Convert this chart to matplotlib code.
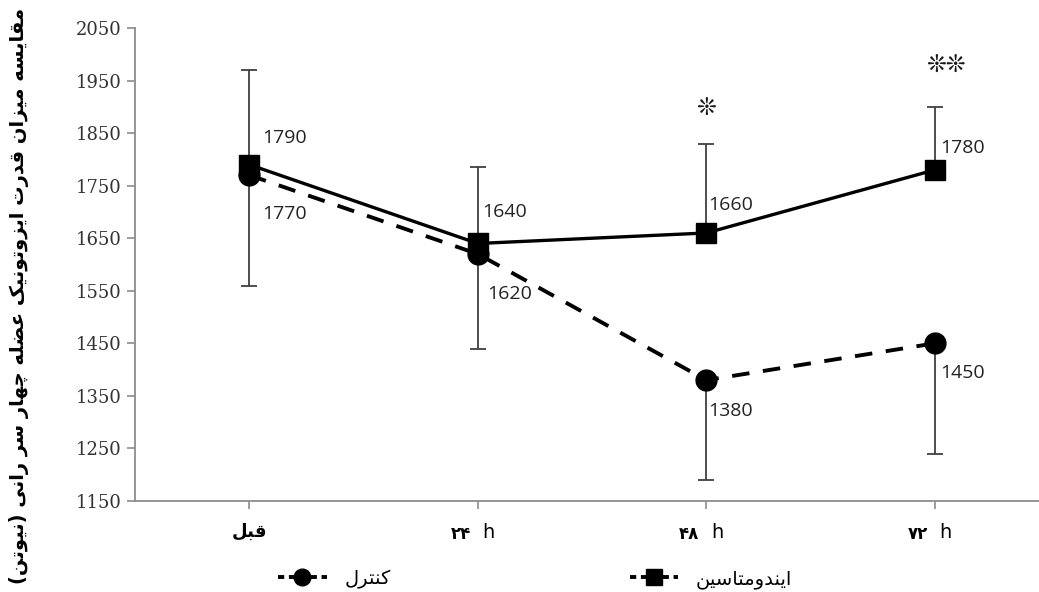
import matplotlib
matplotlib.use("Agg")
import matplotlib.pyplot as plt
from matplotlib.lines import Line2D

# Arabic-script contextual forms: char -> (isolated, final, initial, medial)
FORMS = {
    "ا": ("\uFE8D", "\uFE8E", None, None),
    "د": ("\uFEA9", "\uFEAA", None, None),
    "ر": ("\uFEAD", "\uFEAE", None, None),
    "ز": ("\uFEAF", "\uFEB0", None, None),
    "و": ("\uFEED", "\uFEEE", None, None),
    "ب": ("\uFE8F", "\uFE90", "\uFE91", "\uFE92"),
    "ت": ("\uFE95", "\uFE96", "\uFE97", "\uFE98"),
    "چ": ("\uFB7A", "\uFB7B", "\uFB7C", "\uFB7D"),
    "س": ("\uFEB1", "\uFEB2", "\uFEB3", "\uFEB4"),
    "ض": ("\uFEBD", "\uFEBE", "\uFEBF", "\uFEC0"),
    "ع": ("\uFEC9", "\uFECA", "\uFECB", "\uFECC"),
    "ق": ("\uFED5", "\uFED6", "\uFED7", "\uFED8"),
    "ک": ("\uFB8E", "\uFB8F", "\uFB90", "\uFB91"),
    "ل": ("\uFEDD", "\uFEDE", "\uFEDF", "\uFEE0"),
    "م": ("\uFEE1", "\uFEE2", "\uFEE3", "\uFEE4"),
    "ن": ("\uFEE5", "\uFEE6", "\uFEE7", "\uFEE8"),
    "ه": ("\uFEE9", "\uFEEA", "\uFEEB", "\uFEEC"),
    "ی": ("\uFBFC", "\uFBFD", "\uFBFE", "\uFBFF"),
}
MIRROR = {"(": ")", ")": "("}


def fa(text):
    """Shape Persian text and lay it out left-to-right for matplotlib."""
    out = []
    for i, ch in enumerate(text):
        if ch not in FORMS:
            out.append(MIRROR.get(ch, ch))
            continue
        prev = text[i - 1] if i > 0 else ""
        nxt = text[i + 1] if i + 1 < len(text) else ""
        join_prev = prev in FORMS and FORMS[prev][2] is not None
        join_next = FORMS[ch][2] is not None and nxt in FORMS
        iso, fin, ini, med = FORMS[ch]
        if join_prev and join_next:
            out.append(med)
        elif join_prev:
            out.append(fin)
        elif join_next:
            out.append(ini)
        else:
            out.append(iso)
    return "".join(reversed(out))


# ---- data ----
times = ["قبل", "۲۴", "۴۸", "۷۲"]
indo = [1790, 1640, 1660, 1780]
indo_err_up = [180, 145, 170, 120]
control = [1770, 1620, 1380, 1450]
control_err_down = [210, 180, 190, 210]
stars = ["", "", "❊", "❊❊"]

y_label = "مقایسه میزان قدرت ایزوتونیک عضله چهار سر رانی (نیوتن)"
label_control = "کنترل"
label_indo = "ایندومتاسین"

# label offsets (points) for each series
indo_offsets = [(9, 19), (3, 23), (1.5, 20), (3.6, 16)]
control_offsets = [(9, -28), (7, -29), (1.5, -22), (3.6, -21)]

x = list(range(len(times)))
gray = "#8c8c8c"
arabic_font = ["DejaVu Sans"]

fig = plt.figure(figsize=(10.39, 5.92), dpi=100)
ax = fig.add_axes([0.130, 0.1537, 0.8797, 0.799])

ax.errorbar(x, indo, yerr=[[0] * 4, indo_err_up], fmt="none", ecolor="#404040",
            elinewidth=1.3, capsize=6, capthick=1.3, zorder=2)
ax.errorbar(x, control, yerr=[control_err_down, [0] * 4], fmt="none", ecolor="#404040",
            elinewidth=1.3, capsize=6, capthick=1.3, zorder=2)

ax.plot(x, control, color="black", lw=2.8, ls=(0, (4.5, 3.5)), marker="o",
        markersize=15, zorder=3)
ax.plot(x, indo, color="black", lw=2.4, ls="-", marker="s",
        markersize=15, zorder=4)

# value labels
lab_font = dict(family="Open Sans", fontsize=14, color="#222222")
for xi, v, off in zip(x, indo, indo_offsets):
    ax.annotate(f"{v}", (xi, v), xytext=off, textcoords="offset points", va="center", **lab_font)
for xi, v, off in zip(x, control, control_offsets):
    ax.annotate(f"{v}", (xi, v), xytext=off, textcoords="offset points", va="center", **lab_font)

# significance marks above the error bars
for xi, yi, e, s in zip(x, indo, indo_err_up, stars):
    if s:
        ax.annotate(s, (xi, yi + e), xytext=(0 if len(s) == 1 else 8, 26 if len(s) == 1 else 30),
                    textcoords="offset points", ha="center", va="center",
                    fontsize=17, fontweight="bold", family="DejaVu Sans", color="#1a1a1a")

ax.set_xlim(-0.5, 3.5)
ax.set_ylim(1150, 2050)
ax.set_yticks(range(1150, 2051, 100))
ax.set_xticks(x)
ax.set_xticklabels([])
for t in ax.get_yticklabels():
    t.set_family("DejaVu Serif")
    t.set_fontsize(13)
    t.set_color("#333333")

# x tick labels: Persian word / digits plus hour unit
for xi, t in zip(x, times):
    if xi == 0:
        ax.text(xi, -0.045, fa(t), transform=ax.get_xaxis_transform(), ha="center", va="top",
                family=arabic_font, fontweight="bold", fontsize=13)
    else:
        ax.text(xi - 0.03, -0.05, t, transform=ax.get_xaxis_transform(), ha="right", va="top",
                family=arabic_font, fontweight="bold", fontsize=12)
        ax.text(xi + 0.02, -0.047, "h", transform=ax.get_xaxis_transform(), ha="left", va="top",
                family="DejaVu Sans", fontsize=14)

for side in ["top", "right"]:
    ax.spines[side].set_visible(False)
for side in ["left", "bottom"]:
    ax.spines[side].set_color(gray)
    ax.spines[side].set_linewidth(1.3)
ax.tick_params(axis="y", direction="out", length=6, color=gray, width=1.2, pad=4)
ax.tick_params(axis="x", direction="out", length=6, color=gray, width=1.2)

fig.text(0.018, 0.5, fa(y_label), rotation=90, ha="center", va="center",
         family=arabic_font, fontweight="bold", fontsize=14)

handles = [
    Line2D([], [], color="black", lw=2.8, ls=(0, (1.6, 1.2)), marker="o", markersize=12),
    Line2D([], [], color="black", lw=2.8, ls=(0, (1.6, 1.2)), marker="s", markersize=12),
]
leg = fig.legend(handles, [fa(label_control), fa(label_indo)], loc="center",
                 bbox_to_anchor=(0.515, 0.022), ncol=2, frameon=False, handlelength=2.5,
                 columnspacing=12.3, handletextpad=0.9,
                 prop=dict(family=arabic_font, size=14))

fig.savefig("out.png", dpi=100)
